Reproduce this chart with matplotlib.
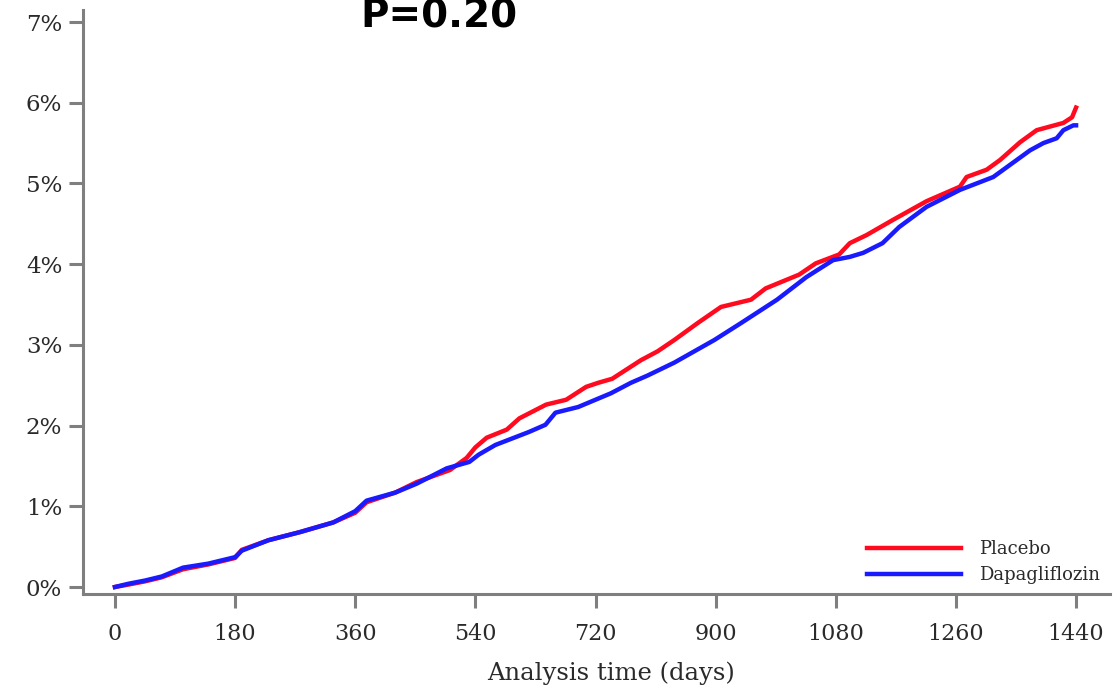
import matplotlib
matplotlib.use("Agg")
import matplotlib.pyplot as plt

# cumulative incidence (%) by analysis time (days)
placebo_days = [0, 20, 45, 70, 102, 140, 180, 190, 230, 277, 327, 360, 377, 420, 452,
                502, 527, 540, 557, 587, 606, 646, 676, 706, 724, 745, 788, 813, 838,
                873, 908, 953, 975, 1025, 1050, 1085, 1101, 1126, 1166, 1216, 1266,
                1276, 1306, 1326, 1356, 1381, 1421, 1434, 1440]
placebo_pct = [0, 0.03, 0.07, 0.12, 0.22, 0.28, 0.36, 0.46, 0.58, 0.68, 0.80, 0.92, 1.05,
               1.17, 1.30, 1.45, 1.60, 1.73, 1.85, 1.95, 2.09, 2.26, 2.32, 2.48, 2.53,
               2.58, 2.81, 2.92, 3.06, 3.27, 3.47, 3.56, 3.70, 3.87, 4.01, 4.12, 4.26,
               4.36, 4.55, 4.78, 4.96, 5.08, 5.17, 5.29, 5.51, 5.66, 5.75, 5.82, 5.94]

dapa_days = [0, 20, 45, 70, 102, 140, 180, 190, 230, 277, 327, 360, 377, 420, 452, 497,
             531, 545, 570, 620, 645, 660, 694, 743, 773, 798, 838, 898, 938, 992, 1036,
             1076, 1101, 1121, 1150, 1175, 1216, 1266, 1316, 1351, 1371, 1391, 1411,
             1421, 1436, 1440]
dapa_pct = [0, 0.04, 0.08, 0.13, 0.24, 0.29, 0.37, 0.45, 0.58, 0.68, 0.80, 0.94, 1.07,
            1.17, 1.28, 1.47, 1.55, 1.64, 1.76, 1.92, 2.01, 2.16, 2.23, 2.40, 2.53, 2.62,
            2.78, 3.06, 3.27, 3.56, 3.84, 4.05, 4.09, 4.14, 4.26, 4.46, 4.71, 4.92, 5.08,
            5.29, 5.41, 5.50, 5.56, 5.66, 5.72, 5.72]

x_ticks = [0, 180, 360, 540, 720, 900, 1080, 1260, 1440]
y_ticks = [0, 1, 2, 3, 4, 5, 6, 7]

fig = plt.figure(figsize=(11.2, 6.85), dpi=100)
ax = fig.add_axes([0.0741, 0.1328, 0.917, 0.8526])

ax.plot(placebo_days, placebo_pct, color="#ff0a1e", lw=3.2, label="Placebo")
ax.plot(dapa_days, dapa_pct, color="#1a1aff", lw=3.2, label="Dapagliflozin")

ax.set_xlim(-47.9, 1490.9)
ax.set_ylim(-0.087, 7.149)
ax.set_xticks(x_ticks)
ax.set_xticklabels([str(t) for t in x_ticks])
ax.set_yticks(y_ticks)
ax.set_yticklabels([f"{t}%" for t in y_ticks])

serif = ["DejaVu Serif"]
for lab in ax.get_xticklabels():
    lab.set_family(serif)
    lab.set_fontsize(16)
    lab.set_color("#2a2a2a")
for lab in ax.get_yticklabels():
    lab.set_family(serif)
    lab.set_fontsize(16.5)
    lab.set_color("#2a2a2a")

for side in ("top", "right"):
    ax.spines[side].set_visible(False)
for side in ("left", "bottom"):
    ax.spines[side].set_color("#7f7f7f")
    ax.spines[side].set_linewidth(2.2)
ax.tick_params(axis="both", direction="out", length=10, width=2.2, color="#7f7f7f")
ax.tick_params(axis="x", pad=11)
ax.tick_params(axis="y", pad=5)

leg = ax.legend(loc="upper left", bbox_to_anchor=(867 / 1120, (685 - 540) / 685),
                bbox_transform=fig.transFigure, frameon=False, handlelength=5.2,
                handletextpad=1.0, labelspacing=0.45, borderpad=0, borderaxespad=0,
                prop={"family": serif, "size": 13})
for t in leg.get_texts():
    t.set_color("#2a2a2a")

fig.text(611 / 1120, (685 - 673) / 685, "Analysis time (days)", ha="center", va="center",
         family=serif, fontsize=17.5, color="#2a2a2a")
fig.text(439 / 1120, (685 - 28) / 685, "P=0.20", ha="center", va="baseline",
         fontsize=28, fontweight="bold", color="black")

fig.savefig("out.png", dpi=100)
